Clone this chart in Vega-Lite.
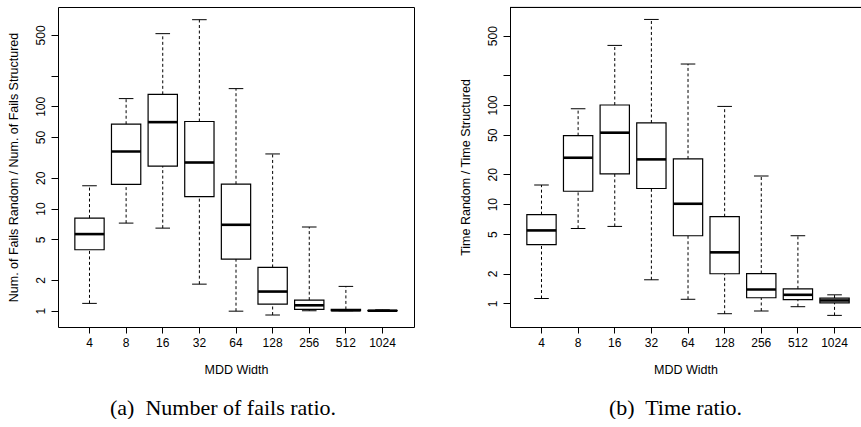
{
  "$schema": "https://vega.github.io/schema/vega-lite/v6.json",
  "padding": {"left": 6, "top": 6, "right": 0, "bottom": 0},
  "background": "white",
  "config": {
    "font": "Liberation Sans",
    "axis": {"labelColor": "black", "titleColor": "black", "tickColor": "black", "domainColor": "black", "grid": false, "titleFontWeight": "normal", "labelFontSize": 12, "titleFontSize": 12.5},
    "title": {"color": "black"}
  },
  "datasets": {
    "fails": [
      {"w": "4", "min": 1.18, "q1": 3.95, "median": 5.62, "q3": 8.06, "max": 16.7},
      {"w": "8", "min": 7.2, "q1": 17.2, "median": 36.1, "q3": 66.8, "max": 119},
      {"w": "16", "min": 6.43, "q1": 26, "median": 70, "q3": 131, "max": 514},
      {"w": "32", "min": 1.82, "q1": 13.1, "median": 28.2, "q3": 71, "max": 704},
      {"w": "64", "min": 0.99, "q1": 3.2, "median": 6.93, "q3": 17.3, "max": 149},
      {"w": "128", "min": 0.908, "q1": 1.16, "median": 1.54, "q3": 2.65, "max": 34.2},
      {"w": "256", "min": 1.0, "q1": 1.03, "median": 1.13, "q3": 1.27, "max": 6.58},
      {"w": "512", "min": 1.0, "q1": 1.0, "median": 1.01, "q3": 1.03, "max": 1.73},
      {"w": "1024", "min": 1.0, "q1": 1.0, "median": 1.0, "q3": 1.005, "max": 1.02}
    ],
    "time": [
      {"w": "4", "min": 1.12, "q1": 3.91, "median": 5.44, "q3": 7.84, "max": 15.6},
      {"w": "8", "min": 5.7, "q1": 13.5, "median": 29.4, "q3": 49.1, "max": 91.8},
      {"w": "16", "min": 5.97, "q1": 20.2, "median": 52.6, "q3": 100, "max": 399},
      {"w": "32", "min": 1.73, "q1": 14.4, "median": 28.3, "q3": 65.9, "max": 729},
      {"w": "64", "min": 1.1, "q1": 4.81, "median": 10.1, "q3": 28.6, "max": 259},
      {"w": "128", "min": 0.787, "q1": 1.99, "median": 3.27, "q3": 7.48, "max": 96.8},
      {"w": "256", "min": 0.838, "q1": 1.14, "median": 1.38, "q3": 2.0, "max": 19.2},
      {"w": "512", "min": 0.926, "q1": 1.09, "median": 1.22, "q3": 1.4, "max": 4.81},
      {"w": "1024", "min": 0.757, "q1": 1.01, "median": 1.07, "q3": 1.13, "max": 1.22}
    ]
  },
  "spacing": 44,
  "hconcat": [
    {
      "data": {"name": "fails"},
      "width": 356,
      "height": 320,
      "view": {"stroke": "black", "strokeWidth": 1, "fill": null},
      "title": {"text": "(a)\u00a0 Number of fails ratio.", "orient": "bottom", "font": "Liberation Serif", "fontSize": 22, "fontWeight": "normal", "anchor": "middle", "dx": -13, "offset": 22},
      "encoding": {
        "x": {"field": "w", "type": "ordinal", "sort": ["4", "8", "16", "32", "64", "128", "256", "512", "1024"],
          "scale": {"type": "band", "paddingInner": 0, "paddingOuter": 0.36},
          "axis": {"title": "MDD Width", "labelAngle": 0, "tickSize": 6, "labelPadding": 4, "domain": false, "titlePadding": 15}}
      },
      "layer": [
        {"mark": {"type": "rule", "strokeDash": [3, 2.5], "strokeWidth": 1, "color": "black"},
          "encoding": {
            "y": {"field": "q3", "type": "quantitative",
              "scale": {"type": "log", "domain": [0.693, 937], "nice": false, "zero": false},
              "axis": {"title": "Num. of Fails Random / Num. of Fails Structured", "values": [1, 2, 5, 10, 20, 50, 100, 200, 500],
                "labelExpr": "datum.value == 200 ? '' : format(datum.value, 'd')",
                "labelAngle": -90, "labelAlign": "center", "labelBaseline": "bottom", "tickSize": 7, "labelPadding": 4, "domain": false, "titlePadding": 14}},
            "y2": {"field": "max"}}},
        {"mark": {"type": "rule", "strokeDash": [3, 2.5], "strokeWidth": 1, "color": "black"},
          "encoding": {"y": {"field": "min", "type": "quantitative"}, "y2": {"field": "q1"}}},
        {"mark": {"type": "tick", "size": 14.6, "thickness": 1, "color": "black", "opacity": 1},
          "encoding": {"y": {"field": "max", "type": "quantitative"}}},
        {"mark": {"type": "tick", "size": 14.6, "thickness": 1, "color": "black", "opacity": 1},
          "encoding": {"y": {"field": "min", "type": "quantitative"}}},
        {"mark": {"type": "bar", "fill": "white", "stroke": "black", "strokeWidth": 1.2, "width": {"band": 0.8}, "opacity": 1},
          "encoding": {"y": {"field": "q1", "type": "quantitative"}, "y2": {"field": "q3"}}},
        {"mark": {"type": "tick", "size": 29.3, "thickness": 2.6, "color": "black", "opacity": 1},
          "encoding": {"y": {"field": "median", "type": "quantitative"}}}
      ]
    },
    {
      "data": {"name": "time"},
      "width": 351,
      "height": 320,
      "view": {"stroke": null, "fill": null},
      "title": {"text": "(b)\u00a0 Time ratio.", "orient": "bottom", "font": "Liberation Serif", "fontSize": 22, "fontWeight": "normal", "anchor": "middle", "dx": -10, "offset": 22},
      "layer": [
        {
          "encoding": {
            "x": {"field": "w", "type": "ordinal", "sort": ["4", "8", "16", "32", "64", "128", "256", "512", "1024"],
              "scale": {"type": "band", "paddingInner": 0, "paddingOuter": 0.291, "align": 0.618},
              "axis": {"title": "MDD Width", "labelAngle": 0, "tickSize": 6, "labelPadding": 4, "domain": true, "titlePadding": 15}}
          },
          "layer": [
            {"mark": {"type": "rule", "strokeDash": [3, 2.5], "strokeWidth": 1, "color": "black"},
              "encoding": {
                "y": {"field": "q3", "type": "quantitative",
                  "scale": {"type": "log", "domain": [0.578, 973], "nice": false, "zero": false},
                  "axis": {"title": "Time Random / Time Structured", "values": [1, 2, 5, 10, 20, 50, 100, 200, 500],
                    "labelExpr": "datum.value == 200 ? '' : format(datum.value, 'd')",
                    "labelAngle": -90, "labelAlign": "center", "labelBaseline": "bottom", "tickSize": 7, "labelPadding": 4, "domain": true, "titlePadding": 14}},
                "y2": {"field": "max"}}},
            {"mark": {"type": "rule", "strokeDash": [3, 2.5], "strokeWidth": 1, "color": "black"},
              "encoding": {"y": {"field": "min", "type": "quantitative"}, "y2": {"field": "q1"}}},
            {"mark": {"type": "tick", "size": 14.6, "thickness": 1, "color": "black", "opacity": 1},
              "encoding": {"y": {"field": "max", "type": "quantitative"}}},
            {"mark": {"type": "tick", "size": 14.6, "thickness": 1, "color": "black", "opacity": 1},
              "encoding": {"y": {"field": "min", "type": "quantitative"}}},
            {"mark": {"type": "bar", "fill": "white", "stroke": "black", "strokeWidth": 1.2, "width": {"band": 0.8}, "opacity": 1},
              "encoding": {"y": {"field": "q1", "type": "quantitative"}, "y2": {"field": "q3"}}},
            {"mark": {"type": "tick", "size": 29.3, "thickness": 2.6, "color": "black", "opacity": 1},
              "encoding": {"y": {"field": "median", "type": "quantitative"}}}
          ]
        },
        {"mark": {"type": "rule", "strokeWidth": 1, "color": "black"},
          "encoding": {"y": {"datum": 962, "type": "quantitative"}}}
      ]
    }
  ]
}
